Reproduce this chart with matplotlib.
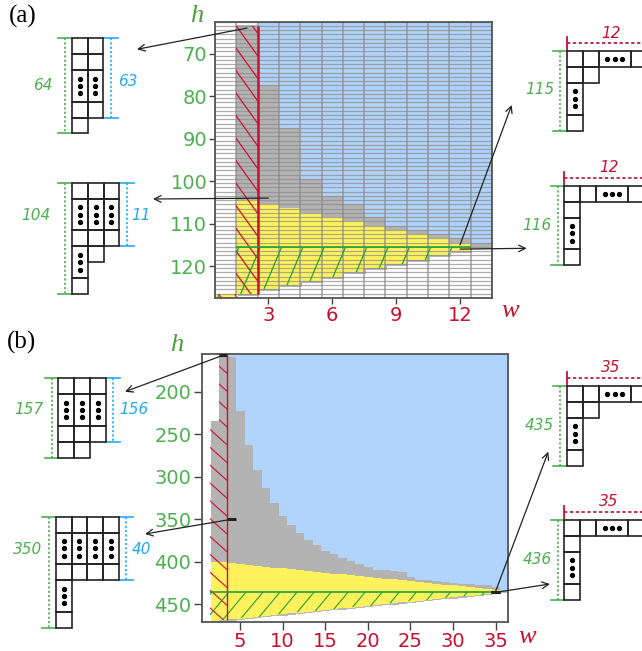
import numpy as np
import matplotlib
matplotlib.use("Agg")
import matplotlib.pyplot as plt
import matplotlib.transforms as mtransforms
from matplotlib.path import Path
from matplotlib.patches import PathPatch, Rectangle
from matplotlib.colors import to_rgba

# ------------------------------------------------
#  Panel (a): n = 127
# ------------------------------------------------
A_W = list(range(1, 14))
A_H_LO, A_H_HI = 63, 127
A_MIN_H = [127, 64, 43, 32, 26, 22, 19, 16, 15, 13, 12, 11, 10]
A_MAX_H = [127, 126, 125, 124, 123, 122, 121, 120, 119, 118, 117, 116, 115]
A_GRAY_TOP = [127, 64, 78, 88, 100, 104, 106, 109, 111, 112, 113, 114, 115]
A_YELLOW_TOP = [127, 105, 106, 107, 108, 109, 110, 111, 112, 113, 114, 115, None]
A_RED_W = 2
A_GREEN_H = 116
A_GREEN_W = 12
A_XTICKS = [3, 6, 9, 12]
A_YTICKS = [70, 80, 90, 100, 110, 120]
A_TARGETS = [(2, 64), (3, 104), (12, 115), (12, 116)]

# ------------------------------------------------
#  Panel (b): n = 470
# ------------------------------------------------
B_W = list(range(1, 37))
B_H_LO, B_H_HI = 156, 470
B_MIN_H = [470, 235, 157, 118, 94, 79, 68, 59, 53, 47, 43, 40, 37, 34, 32, 30,
           28, 27, 25, 24, 23, 22, 21, 20, 19, 19, 18, 17, 17, 16, 16, 15, 15,
           14, 14, 14]
B_MAX_H = [470, 469, 468, 467, 466, 465, 464, 463, 462, 461, 460, 459, 458,
           457, 456, 455, 454, 453, 452, 451, 450, 449, 448, 447, 446, 445,
           444, 443, 442, 441, 440, 439, 438, 437, 436, 435]
B_GRAY_TOP = [470, 235, 157, 159, 223, 263, 292, 314, 331, 346, 357, 366, 375,
              381, 387, 391, 396, 399, 403, 406, 410, 410, 411, 412, 418, 422,
              422, 423, 424, 425, 426, 426, 427, 428, 430, 435]
B_YELLOW_TOP = [470, 400, 401, 402, 403, 404, 405, 406, 407, 408, 409, 410,
                411, 412, 413, 414, 415, 416, 417, 418, 419, 420, 421, 422,
                423, 424, 425, 426, 427, 428, 429, 430, 431, 432, 433, None]
B_RED_W = 3
B_GREEN_H = 436
B_GREEN_W = 35
B_XTICKS = [5, 10, 15, 20, 25, 30, 35]
B_YTICKS = [200, 250, 300, 350, 400, 450]
B_TARGETS = [(3, 157), (4, 350), (35, 435), (35, 436)]

# diagram labels
A_LABELS = [("64", "63"), ("104", "11"), ("12", "115"), ("12", "116")]
B_LABELS = [("157", "156"), ("350", "40"), ("35", "435"), ("35", "436")]

# ------------------------------------------------
#  Colours
# ------------------------------------------------
BLUE = "#b0d4fb"
GRAY = "#b3b3b3"
YELLOW = "#fff25c"
SHADOW = "#b8b8b8"
RED = "#cc1133"
GREEN = "#22a03a"
GREEN_T = "#4caf50"
BLUE_T = "#22aaee"
RED_T = "#c8102e"
INK = "#222222"

W_PX, H_PX = 642, 651
fig = plt.figure(figsize=(W_PX / 100, H_PX / 100), dpi=100)


def ax_rect(l, t, r, b):
    return [l / W_PX, 1 - b / H_PX, (r - l) / W_PX, (b - t) / H_PX]


def column_path(ws, lo, hi):
    verts, codes = [], []
    for w, a, b in zip(ws, lo, hi):
        if a > b:
            continue
        verts += [(w - 0.5, a - 0.5), (w + 0.5, a - 0.5), (w + 0.5, b + 0.5),
                  (w - 0.5, b + 0.5), (0, 0)]
        codes += [Path.MOVETO, Path.LINETO, Path.LINETO, Path.LINETO, Path.CLOSEPOLY]
    return Path(verts, codes)


def hatch(ax, path, slope, spacing, xlim, ylim, color, lw, phase=0.0):
    xs = np.array(xlim)
    cvals = [y - slope * x for x in xlim for y in ylim]
    start = np.floor((min(cvals) - phase) / spacing) * spacing + phase
    for c in np.arange(start, max(cvals) + spacing, spacing):
        ln, = ax.plot(xs, c + slope * xs, color=color, lw=lw, zorder=4,
                      solid_capstyle="butt")
        ln.set_clip_path(path, ax.transData)


def draw_panel(ax, ws, h_lo, h_hi, min_h, max_h, gray_top, yellow_top,
               red_w, green_h, green_w, xticks, yticks, mesh,
               red_hatch, green_hatch, red_lw, shadow, tick_len):
    hs = np.arange(h_lo, h_hi + 1)
    img = np.zeros((len(hs), len(ws), 4))
    for j in range(len(ws)):
        for i, h in enumerate(hs):
            if h < min_h[j] or h > max_h[j]:
                continue
            if h < gray_top[j]:
                col = BLUE
            elif yellow_top[j] is not None and h >= yellow_top[j]:
                col = YELLOW
            else:
                col = GRAY
            img[i, j] = to_rgba(col)
    x0, x1 = ws[0] - 0.5, ws[-1] + 0.5
    y0, y1 = h_lo - 0.5, h_hi + 0.5

    lo = [max(m, h_lo) for m in min_h]
    off = mtransforms.offset_copy(ax.transData, fig=fig, x=shadow[0],
                                  y=shadow[1], units="dots")
    ax.add_patch(PathPatch(column_path(ws, lo, max_h), transform=off,
                           fc=SHADOW, ec="none", zorder=0.5))

    ax.imshow(img, extent=(x0, x1, y1, y0), origin="upper", aspect="auto",
              interpolation="nearest", zorder=1)

    if mesh:
        ax.hlines(np.arange(y0, y1 + 0.5), x0, x1, color="#8a8a8a", lw=0.9,
                  alpha=0.7, zorder=2)
        ax.vlines(np.arange(x0, x1 + 0.5), y0, y1, color="#8a8a8a", lw=1.1,
                  alpha=0.8, zorder=2)

    # red hatched region: narrow widths
    nr = len([w for w in ws if w <= red_w])
    red_path = column_path(ws[:nr], lo[:nr], max_h[:nr])
    hatch(ax, red_path, red_hatch[0], red_hatch[1], (x0, red_w + 0.5),
          (y0, y1), RED, red_hatch[2], red_hatch[3])

    # green hatched region: tall shapes
    ng = len([w for w in ws if w <= green_w])
    g_lo = [max(green_h, m) for m in lo[:ng]]
    green_path = column_path(ws[:ng], g_lo, max_h[:ng])
    hatch(ax, green_path, green_hatch[0], green_hatch[1], (x0, green_w + 0.5),
          (green_h - 0.5, y1), GREEN, green_hatch[2], green_hatch[3])

    ax.vlines(red_w + 0.5, lo[red_w - 1] - 0.5, max_h[red_w - 1] + 0.5,
              color=RED, lw=red_lw, zorder=5)
    ax.hlines(green_h - 0.5, 1.5, green_w + 0.5, color=GREEN, lw=1.2, zorder=5)

    ax.set_xlim(x0, x1)
    ax.set_ylim(y1, y0)
    ax.set_xticks(xticks)
    ax.set_yticks(yticks)
    ax.tick_params(direction="out", length=tick_len, width=1.0, color="#444444",
                   labelsize=14, pad=1.5)
    ax.tick_params(axis="x", labelcolor=RED_T)
    ax.tick_params(axis="y", labelcolor=GREEN_T)
    for s in ax.spines.values():
        s.set_color("#555555")
        s.set_linewidth(1.3)


ax_a = fig.add_axes(ax_rect(215, 21.7, 492, 298))
ax_b = fig.add_axes(ax_rect(201.7, 354, 508.3, 621.7))

draw_panel(ax_a, A_W, A_H_LO, A_H_HI, A_MIN_H, A_MAX_H, A_GRAY_TOP,
           A_YELLOW_TOP, A_RED_W, A_GREEN_H, A_GREEN_W, A_XTICKS, A_YTICKS,
           mesh=True, red_hatch=(7.0, 5.3, 0.9, 0.0),
           green_hatch=(-12.0, 12.0, 0.9, 3.0), red_lw=1.8,
           shadow=(1.5, -2.0), tick_len=4)
draw_panel(ax_b, B_W, B_H_LO, B_H_HI, B_MIN_H, B_MAX_H, B_GRAY_TOP,
           B_YELLOW_TOP, B_RED_W, B_GREEN_H, B_GREEN_W, B_XTICKS, B_YTICKS,
           mesh=False, red_hatch=(9.0, 21.0, 0.8, 0.0),
           green_hatch=(-12.0, 24.0, 0.8, 0.0), red_lw=1.0,
           shadow=(1.0, -1.5), tick_len=6)

for w, h in B_TARGETS:
    ax_b.hlines(h, w - 0.5, w + 0.5, color=INK, lw=2.2, zorder=6)

# ------------------------------------------------
#  Overlay in pixel coordinates for the sketches
# ------------------------------------------------
ov = fig.add_axes([0, 0, 1, 1], zorder=10)
ov.set_xlim(0, W_PX)
ov.set_ylim(H_PX, 0)
ov.axis("off")
ov.patch.set_alpha(0)


def draw_shape(x0, y0, c, rows):
    def box(k, r, nw, nh):
        ov.add_patch(Rectangle((x0 + k * c, y0 + r * c), nw * c, nh * c,
                               fill=False, ec=INK, lw=1.2, zorder=3))
    for r, row in enumerate(rows):
        for k, ch in enumerate(row):
            if ch == "b":
                box(k, r, 1, 1)
            elif ch == "v":
                if r > 0 and k < len(rows[r - 1]) and rows[r - 1][k] == "v":
                    continue
                n = 1
                while r + n < len(rows) and k < len(rows[r + n]) and rows[r + n][k] == "v":
                    n += 1
                box(k, r, 1, n)
                cx, cy = x0 + (k + 0.5) * c, y0 + (r + n / 2) * c
                ov.plot([cx] * 3, [cy - 0.46 * c, cy, cy + 0.46 * c], "o",
                        color="black", ms=2.8, zorder=4)
            elif ch == "h":
                if k > 0 and row[k - 1] == "h":
                    continue
                n = 1
                while k + n < len(row) and row[k + n] == "h":
                    n += 1
                box(k, r, n, 1)
                cx, cy = x0 + (k + n / 2) * c, y0 + (r + 0.5) * c
                ov.plot([cx - 0.46 * c, cx, cx + 0.46 * c], [cy] * 3, "o",
                        color="black", ms=2.8, zorder=4)


def vdim(x, ya, yb, t0, t1, color):
    ov.plot([x, x], [ya, yb], color=color, lw=1.2, dashes=(1.3, 1.3))
    ov.plot([t0, t1], [ya, ya], color=color, lw=1.2)
    ov.plot([t0, t1], [yb, yb], color=color, lw=1.2)


def left_sketch(x0, y0, c, rows, blue_rows, labels, label_pos, head, target, ax):
    ncol = len(rows[0])
    draw_shape(x0, y0, c, rows)
    xr = x0 + ncol * c
    vdim(x0 - 0.4 * c, y0, y0 + len(rows) * c, x0 - 0.85 * c, x0, GREEN_T)
    vdim(xr + 0.45 * c, y0, y0 + blue_rows * c, xr, xr + 0.9 * c, BLUE_T)
    ov.text(*label_pos[0], labels[0], color=GREEN_T, style="italic",
            fontsize=11, ha="center", va="center")
    ov.text(*label_pos[1], labels[1], color=BLUE_T, style="italic",
            fontsize=11, ha="center", va="center")
    ov.annotate("", xy=head, xytext=target, textcoords=ax.transData,
                arrowprops=dict(arrowstyle="->", color=INK, lw=0.9,
                                shrinkA=0, shrinkB=0, mutation_scale=12))


def right_sketch(x0, y0, c, rows, labels, label_pos, head, target, ax):
    draw_shape(x0, y0, c, rows)
    ov.plot([x0, W_PX + 5], [y0 - 0.5 * c] * 2, color="#b01040", lw=1.2,
            dashes=(2.0, 1.5))
    ov.plot([x0, x0], [y0 - 0.85 * c, y0], color=RED_T, lw=1.3)
    vdim(x0 - 0.42 * c, y0, y0 + len(rows) * c, x0 - 0.85 * c, x0, GREEN_T)
    ov.text(*label_pos[0], labels[0], color=RED_T, style="italic",
            fontsize=11, ha="center", va="center")
    ov.text(*label_pos[1], labels[1], color=GREEN_T, style="italic",
            fontsize=11, ha="center", va="center")
    ov.annotate("", xy=head, xytext=target, textcoords=ax.transData,
                arrowprops=dict(arrowstyle="->", color=INK, lw=0.9,
                                shrinkA=0, shrinkB=0, mutation_scale=12))


HOOK_A = ["bbhhbbb", "bb", "v", "v", "b"]
HOOK_B = ["bbhhbbb", "b", "v", "v", "b"]

left_sketch(71.7, 38.3, 15.85, ["bb", "bb", "vv", "vv", "bb", "b"], 5,
            A_LABELS[0], [(43, 85), (128, 82)], (137, 49.3), A_TARGETS[0], ax_a)
left_sketch(71.7, 182.7, 15.9, ["bbb", "vvv", "vvv", "bbb", "vb", "v", "b"], 4,
            A_LABELS[1], [(36, 216), (141, 216)], (153, 199), A_TARGETS[1], ax_a)
right_sketch(566.7, 50.7, 16.0, HOOK_A, A_LABELS[2], [(611, 33), (540, 90)],
             (511.7, 105), A_TARGETS[2], ax_a)
right_sketch(564.3, 185.7, 15.9, HOOK_B, A_LABELS[3], [(609, 168), (537, 225)],
             (526.7, 248.3), A_TARGETS[3], ax_a)

left_sketch(58.3, 378.3, 15.9, ["bbb", "vvv", "vvv", "bbb", "bb"], 4,
            B_LABELS[0], [(29, 410), (134, 410)], (125, 391.7), B_TARGETS[0], ax_b)
left_sketch(55.7, 516.7, 15.86, ["bbbb", "vvvv", "vvvv", "bbbb", "v", "v", "b"], 4,
            B_LABELS[1], [(27.5, 550), (141, 550)], (145, 534), B_TARGETS[1], ax_b)
right_sketch(566.7, 385.7, 16.0, HOOK_A, B_LABELS[2], [(611, 368), (539, 425)],
             (548.3, 451.7), B_TARGETS[2], ax_b)
right_sketch(564.3, 520, 15.9, HOOK_B, B_LABELS[3], [(609, 502), (537, 559)],
             (550, 584), B_TARGETS[3], ax_b)

# panel letters and axis names
ov.text(22.5, 16, "(a)", family="Liberation Serif", fontsize=18,
        ha="center", va="center")
ov.text(22, 342, "(b)", family="Liberation Serif", fontsize=18,
        ha="center", va="center")
ov.text(197, 16, "h", family="Liberation Serif", style="italic", fontsize=19,
        color="#4a9e3a", ha="center", va="center")
ov.text(177, 345, "h", family="Liberation Serif", style="italic", fontsize=19,
        color="#4a9e3a", ha="center", va="center")
ov.text(510, 311, "w", family="Liberation Serif", style="italic", fontsize=19,
        color=RED_T, ha="center", va="center")
ov.text(527, 637, "w", family="Liberation Serif", style="italic", fontsize=19,
        color=RED_T, ha="center", va="center")

fig.savefig("out.png", dpi=100)
